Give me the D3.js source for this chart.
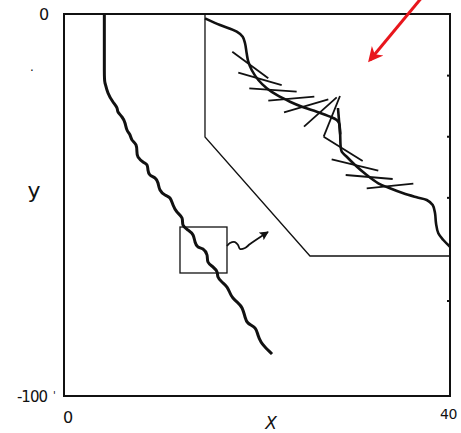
<!DOCTYPE html>
<html>
<head>
<meta charset="utf-8">
<script src="https://cdn.jsdelivr.net/npm/d3@7"></script>
<style>
  body { margin: 0; background: #fff; }
  text { font-family: "DejaVu Sans", sans-serif; fill: #111; }
</style>
</head>
<body>
<div id="chart"></div>
<script>
// axis ranges and labels
const xDomain = [0, 40];
const yDomain = [-100, 0];
const xTickLabels = ['0', '40'];
const yTickLabels = ['0', '-100'];
const rightTicks = [-16, -32, -48, -75];

// main wavy trace (x, y)
const trace = [
  [4.18, 0], [4.18, -14.66], [4.25, -18.06], [4.56, -20.68], [5.08, -23.04],
  [5.49, -24.61], [5.6, -25.65], [6.01, -26.96], [6.32, -28.53], [6.53, -30.37],
  [6.84, -31.68], [7.05, -32.98], [7.46, -34.29], [7.56, -36.13], [7.67, -37.43],
  [8.19, -38.74], [8.6, -39.53], [8.7, -40.84], [8.91, -42.15], [9.43, -42.93],
  [9.74, -44.24], [9.95, -46.07], [10.47, -47.38], [10.98, -48.17], [11.3, -50.0],
  [11.71, -51.83], [12.23, -53.4], [12.33, -55.24], [12.85, -56.54], [13.37, -57.85],
  [13.58, -59.69], [13.89, -60.99], [14.4, -61.52], [14.82, -63.09], [14.92, -64.92],
  [15.44, -66.23], [15.86, -67.54], [15.96, -68.85], [16.37, -70.16], [16.89, -71.47],
  [17.2, -73.04], [17.51, -74.35], [18.03, -75.65], [18.45, -76.96], [18.76, -79.32],
  [19.07, -80.89], [19.79, -82.2], [20.1, -84.03], [20.42, -85.86], [20.83, -87.17],
  [21.56, -89.01]
];

// small box around a detail of the trace: [x0, x1, y0, y1]
const detailBox = [12.02, 16.89, -55.76, -67.8];

// wiggly pointer from the box to the inset
const pointer = [
  [16.89, -60.73], [17.2, -59.95], [17.72, -59.69], [18.03, -60.47],
  [18.24, -61.52], [18.76, -61.26], [19.28, -60.21], [21.14, -57.07]
];

// inset outline
const insetFrame = [[14.61, 0], [14.61, -32.2], [25.49, -63.35], [40, -63.35]];

// enlarged trace inside the inset
const insetTrace = [
  [14.61, -1.13], [16.17, -2.88], [17.9, -4.63], [18.52, -5.94], [18.76, -7.67],
  [18.93, -10.29], [19.1, -12.49], [19.45, -14.66], [20.14, -17.28], [21.01, -19.45],
  [22.04, -21.2], [23.42, -22.96], [24.8, -24.42], [26.19, -25.58], [27.57, -26.88],
  [28.26, -27.75], [28.5, -28.53], [28.6, -30.37], [28.67, -34.74], [28.78, -36.05],
  [29.3, -37.36], [30.16, -39.53], [31.37, -42.15], [32.57, -44.32], [33.78, -45.63],
  [35.16, -46.94], [36.55, -47.98], [37.59, -48.69], [38.21, -50.0], [38.45, -52.17],
  [38.55, -54.79], [38.79, -57.41], [39.31, -59.16], [40.0, -60.92]
];

// short straight strokes across the inset trace
const strokes = [
  [[17.44, -9.87], [21.17, -16.83]],
  [[18.06, -15.37], [22.56, -18.59]],
  [[19.2, -19.45], [24.11, -20.34]],
  [[21.17, -22.7], [25.94, -21.65]],
  [[22.8, -25.73], [27.39, -22.33]],
  [[24.87, -29.5], [28.26, -21.81]],
  [[26.91, -32.12], [28.6, -21.47]],
  [[26.91, -32.12], [30.95, -38.48]],
  [[27.74, -38.04], [32.57, -41.02]],
  [[29.19, -42.15], [34.06, -43.19]],
  [[31.37, -45.63], [36.2, -44.42]]
];
const riser = [[28.39, -24.61], [28.62, -31.5]];

// red annotation arrow
const redArrow = [[37.72, 6.28], [31.71, -12.04]];

const width = 461;
const height = 433;
const margin = { top: 14, right: 11, bottom: 37, left: 64 };

const x = d3.scaleLinear().domain(xDomain).range([margin.left, width - margin.right]);
const y = d3.scaleLinear().domain(yDomain).range([height - margin.bottom, margin.top]);

const svg = d3.select('#chart')
  .append('svg')
  .attr('width', width)
  .attr('height', height);

const defs = svg.append('defs');
defs.append('marker')
  .attr('id', 'headBlack')
  .attr('viewBox', '0 0 10 10')
  .attr('refX', 9).attr('refY', 5)
  .attr('markerWidth', 5).attr('markerHeight', 5)
  .attr('markerUnits', 'strokeWidth')
  .attr('orient', 'auto')
  .append('path')
  .attr('d', 'M0,0L10,5L0,10L2,5Z')
  .attr('fill', '#111');
defs.append('marker')
  .attr('id', 'headRed')
  .attr('viewBox', '0 0 10 10')
  .attr('refX', 8).attr('refY', 5)
  .attr('markerWidth', 6).attr('markerHeight', 5)
  .attr('markerUnits', 'strokeWidth')
  .attr('orient', 'auto')
  .append('path')
  .attr('d', 'M0,0L10,5L0,10L3,5Z')
  .attr('fill', '#e8161c');

const line = d3.line()
  .x((d) => x(d[0]))
  .y((d) => y(d[1]));
const straight = (pts) => line.curve(d3.curveLinear)(pts);
const wavy = (pts) => line.curve(d3.curveNatural)(pts);
const smooth = (pts) => line.curve(d3.curveCatmullRom)(pts);

// frame
svg.append('rect')
  .attr('x', x(xDomain[0]))
  .attr('y', y(yDomain[1]))
  .attr('width', x(xDomain[1]) - x(xDomain[0]))
  .attr('height', y(yDomain[0]) - y(yDomain[1]))
  .attr('fill', 'none')
  .attr('stroke', '#111')
  .attr('stroke-width', 2);

// inward ticks on the right edge
svg.append('g')
  .attr('transform', `translate(${x(xDomain[1])},0)`)
  .call(d3.axisLeft(y).tickValues(rightTicks).tickSize(3).tickFormat(''))
  .call((g) => g.select('.domain').remove())
  .call((g) => g.selectAll('line').attr('stroke', '#111').attr('stroke-width', 2));

// tick labels
svg.append('text')
  .attr('x', 44).attr('y', y(0) + 6)
  .attr('text-anchor', 'middle')
  .attr('font-size', 16)
  .text(yTickLabels[0]);
svg.append('text')
  .attr('x', 47).attr('y', y(-100) + 6)
  .attr('text-anchor', 'end')
  .attr('font-size', 15)
  .attr('letter-spacing', -1)
  .text(yTickLabels[1]);
svg.append('text')
  .attr('x', x(0) + 4).attr('y', 423)
  .attr('text-anchor', 'middle')
  .attr('font-size', 16)
  .text(xTickLabels[0]);
svg.append('text')
  .attr('x', 440).attr('y', 419)
  .attr('font-size', 14)
  .attr('letter-spacing', -0.5)
  .text(xTickLabels[1]);
svg.append('text')
  .attr('x', 53).attr('y', y(-100) + 3)
  .attr('font-size', 10)
  .text("'");
svg.append('text')
  .attr('x', 32).attr('y', 71)
  .attr('text-anchor', 'middle')
  .attr('font-size', 12)
  .text('.');

// axis titles
svg.append('text')
  .attr('x', 34).attr('y', 198)
  .attr('text-anchor', 'middle')
  .attr('font-size', 22)
  .text('y');
svg.append('text')
  .attr('x', 271).attr('y', 429)
  .attr('text-anchor', 'middle')
  .attr('font-size', 17)
  .attr('font-style', 'italic')
  .text('X');

// main trace
svg.append('path')
  .attr('d', wavy(trace))
  .attr('fill', 'none')
  .attr('stroke', '#111')
  .attr('stroke-width', 3)
  .attr('stroke-linejoin', 'round');

// detail box and pointer
svg.append('rect')
  .attr('x', x(detailBox[0]))
  .attr('y', y(detailBox[2]))
  .attr('width', x(detailBox[1]) - x(detailBox[0]))
  .attr('height', y(detailBox[3]) - y(detailBox[2]))
  .attr('fill', 'none')
  .attr('stroke', '#111')
  .attr('stroke-width', 1.3);

svg.append('path')
  .attr('d', smooth(pointer))
  .attr('fill', 'none')
  .attr('stroke', '#111')
  .attr('stroke-width', 1.8)
  .attr('marker-end', 'url(#headBlack)');

// inset
svg.append('path')
  .attr('d', straight(insetFrame))
  .attr('fill', 'none')
  .attr('stroke', '#111')
  .attr('stroke-width', 1.3);

svg.selectAll('.stroke')
  .data(strokes)
  .enter()
  .append('path')
  .attr('class', 'stroke')
  .attr('d', straight)
  .attr('stroke', '#111')
  .attr('stroke-width', 1.8);

svg.append('path')
  .attr('d', straight(riser))
  .attr('stroke', '#111')
  .attr('stroke-width', 2.6);

svg.append('path')
  .attr('d', smooth(insetTrace))
  .attr('fill', 'none')
  .attr('stroke', '#111')
  .attr('stroke-width', 2.6)
  .attr('stroke-linejoin', 'round');

// red annotation arrow
svg.append('path')
  .attr('d', straight(redArrow))
  .attr('stroke', '#e8161c')
  .attr('stroke-width', 3)
  .attr('marker-end', 'url(#headRed)');
</script>
</body>
</html>
